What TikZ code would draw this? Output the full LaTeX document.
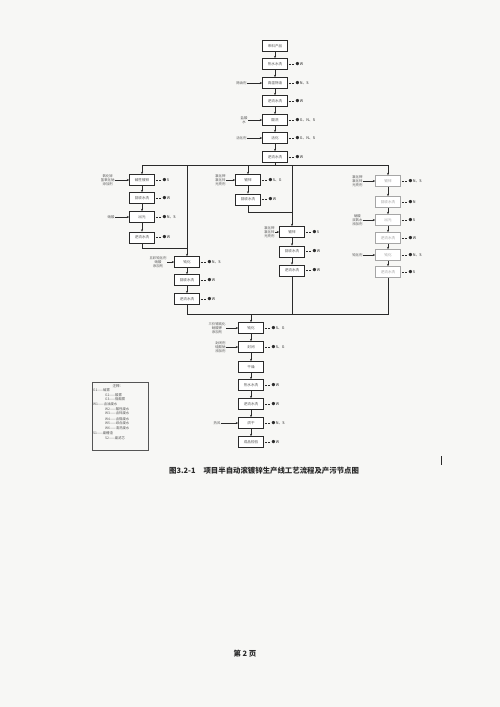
\documentclass[tikz,border=0pt]{standalone}
\usepackage{fontspec}
\setmainfont{Noto Sans CJK SC}
\usetikzlibrary{arrows.meta,calc}
\definecolor{pagebg}{HTML}{F7F7F5}
\definecolor{ink}{HTML}{2A2A2A}
\definecolor{softink}{HTML}{555555}
\tikzset{
  pbox/.style={draw=ink, line width=0.6pt, minimum width=25pt, minimum height=11pt, inner sep=0pt, fill=white, text=softink, font=\fontsize{3.6}{4}\selectfont},
  fadebox/.style={pbox, draw=gray!70, text=gray!70},
  flow/.style={draw=ink, line width=0.6pt, -{Stealth[length=2.4pt,width=2pt]}},
  plain/.style={draw=ink, line width=0.6pt},
  inl/.style={text=softink, font=\fontsize{3.4}{4.2}\selectfont, align=center, inner sep=0.5pt},
  outl/.style={text=ink, font=\fontsize{3.8}{4}\selectfont, inner sep=0.5pt},
  oline/.style={draw=ink, line width=0.5pt, dash pattern=on 2pt off 1.2pt},
  legtxt/.style={text=softink, font=\fontsize{3.4}{4}\selectfont, inner sep=0pt, anchor=west},
}
\newcommand\emitto[2]{\node[outl,anchor=west] (#1o) at ([xshift=7pt]#1.east) {●\,#2};\draw[oline] ([xshift=1pt]#1.east) -- (#1o.west);}
\newcommand\feedin[3][-12pt]{\node[inl,anchor=east] (#2i) at ([xshift=#1]#2.west) {#3};\draw[flow] (#2i.east) -- (#2.west);}
\begin{document}
\begin{tikzpicture}[x=1pt,y=-1pt]
\fill[pagebg] (0,0) rectangle (500,707);
\useasboundingbox (0,0) rectangle (500,707);

% main top column
\node[pbox] (t1) at (275,46) {来料产品};
\node[pbox] (t2) at (275,64) {热水水洗};
\node[pbox] (t3) at (275,83) {高温除油};
\node[pbox] (t4) at (275,101) {逆流水洗};
\node[pbox] (t5) at (275,120) {酸洗};
\node[pbox] (t6) at (275,138) {活化};
\node[pbox] (t7) at (275,157) {逆流水洗};
\foreach \a/\b in {t1/t2,t2/t3,t3/t4,t4/t5,t5/t6,t6/t7}{\draw[flow] (\a) -- (\b);}
\emitto{t2}{W}
\emitto{t3}{N、S}
\emitto{t4}{W}
\emitto{t5}{G、N、S}
\emitto{t6}{G、N、S}
\emitto{t7}{W}
\feedin[-15pt]{t3}{除油剂}
\feedin[-14pt]{t5}{盐酸\\水}
\feedin[-15pt]{t6}{活化剂}

% distribution line
\coordinate (hl) at (142,165);
\coordinate (hr) at (388,165);
\coordinate (hm) at (275,165);
\draw[plain] (t7.south) -- (hm);
\draw[plain] (hl) -- (hr);

% left column
\node[pbox] (l1) at (142,180) {碱性镀锌};
\node[pbox] (l2) at (142,198) {回收水洗};
\node[pbox] (l3) at (142,217) {出光};
\node[pbox] (l4) at (142,237.5) {逆流水洗};
\draw[flow] (hl) -- (l1);
\foreach \a/\b in {l1/l2,l2/l3,l3/l4}{\draw[flow] (\a) -- (\b);}
\emitto{l1}{S}
\emitto{l2}{W}
\emitto{l3}{N、S}
\emitto{l4}{W}
\feedin[-14pt]{l1}{氧化锌\\氢氧化钠\\添加剂}
\feedin[-14pt]{l3}{硝酸}

% second column
\coordinate (c0) at (187,165);
\coordinate (cj) at (187,248);
\node[pbox] (c1) at (187,262) {钝化};
\node[pbox] (c2) at (187,280) {回收水洗};
\node[pbox] (c3) at (187,299) {逆流水洗};
\draw[plain] (l4.south) |- (cj);
\draw[flow] (c0) -- (c1);
\draw[flow] (c1) -- (c2);
\draw[flow] (c2) -- (c3);
\emitto{c1}{N、S}
\emitto{c2}{W}
\emitto{c3}{W}
\feedin[-7pt]{c1}{五彩钝化剂\\硝酸\\添加剂}

% third column
\coordinate (m0) at (248,165);
\node[pbox] (m1) at (248,180) {镀锌};
\node[pbox] (m2) at (248,199.5) {回收水洗};
\draw[flow] (m0) -- (m1);
\draw[flow] (m1) -- (m2);
\emitto{m1}{S、G}
\emitto{m2}{W}
\feedin[-9pt]{m1}{氯化钾\\氯化锌\\光亮剂}

% fourth column
\coordinate (n0) at (292,165);
\coordinate (nj) at (292,212);
\node[pbox] (n1) at (292,232) {镀锌};
\node[pbox] (n2) at (292,251.5) {回收水洗};
\node[pbox] (n3) at (292,270.5) {逆流水洗};
\draw[plain] (m2.south) |- (nj);
\draw[flow] (n0) -- (n1);
\draw[flow] (n1) -- (n2);
\draw[flow] (n2) -- (n3);
\emitto{n1}{S}
\emitto{n2}{W}
\emitto{n3}{W}
\feedin[-4pt]{n1}{氯化钾\\氯化锌\\光亮剂}

% right column (faded)
\node[fadebox] (r1) at (388,181) {镀锌};
\node[fadebox] (r2) at (388,202) {回收水洗};
\node[fadebox] (r3) at (388,220) {出光};
\node[fadebox] (r4) at (388,238) {逆流水洗};
\node[fadebox] (r5) at (388,255) {钝化};
\node[fadebox] (r6) at (388,272) {逆流水洗};
\draw[flow] (hr) -- (r1);
\foreach \a/\b in {r1/r2,r2/r3,r3/r4,r4/r5,r5/r6}{\draw[flow] (\a) -- (\b);}
\emitto{r1}{N、S}
\emitto{r2}{N}
\emitto{r3}{S}
\emitto{r4}{W}
\emitto{r5}{N、S}
\emitto{r6}{S}
\feedin[-12pt]{r1}{氯化钾\\氯化锌\\光亮剂}
\feedin[-12pt]{r3}{硝酸\\双氧水\\添加剂}
\feedin[-12pt]{r5}{钝化剂}

% merge line
\coordinate (bl) at (187,314);
\coordinate (br) at (388,314);
\coordinate (bm) at (251,314);
\draw[plain] (c3.south) -- (bl) -- (br) -- (r6.south);
\draw[plain] (n3.south) -- (292,314);

% bottom column
\node[pbox] (b1) at (251,328) {钝化};
\node[pbox] (b2) at (251,347) {封闭};
\node[pbox] (b3) at (251,367) {干燥};
\node[pbox] (b4) at (251,385) {热水水洗};
\node[pbox] (b5) at (251,404) {逆流水洗};
\node[pbox] (b6) at (251,423) {烘干};
\node[pbox] (b7) at (251,442) {成品检验};
\draw[flow] (bm) -- (b1);
\foreach \a/\b in {b1/b2,b2/b3,b3/b4,b4/b5,b5/b6,b6/b7}{\draw[flow] (\a) -- (\b);}
\emitto{b1}{S、G}
\emitto{b2}{S、G}
\emitto{b4}{W}
\emitto{b5}{W}
\emitto{b6}{N、S}
\emitto{b7}{W}
\feedin[-12pt]{b1}{三价铬钝化\\硝酸钾\\添加剂}
\feedin[-12pt]{b2}{封闭剂\\硅酸钠\\添加剂}
\feedin[-17pt]{b6}{热风}

% legend
\node[draw=softink, line width=0.5pt, minimum width=56pt, minimum height=68pt, inner sep=0pt, anchor=north west] (leg) at (92,382) {};
\node[text=softink, font=\fontsize{3.6}{4}\selectfont, inner sep=0pt] (lg0) at (118,386) {注释：};
\node[legtxt] (lg1) at (93,390.5) {G1——碱雾};
\node[legtxt] (lg2) at (105,395) {G2——酸雾};
\node[legtxt] (lg3) at (105,399.5) {G3——铬酸雾};
\node[legtxt] (lg4) at (93,404.3) {W1——含油废水};
\node[legtxt] (lg5) at (105,409) {W2——酸性废水};
\node[legtxt] (lg6) at (105,413.7) {W3——含锌废水};
\node[legtxt] (lg7) at (105,418.7) {W4——含铬废水};
\node[legtxt] (lg8) at (105,423.3) {W5——综合废水};
\node[legtxt] (lg9) at (105,428.3) {W6——清洗废水};
\node[legtxt] (lg10) at (93,433.3) {S1——废槽渣};
\node[legtxt] (lg11) at (105,438.3) {S2——废滤芯};

% caption and page number
\node[text=ink, font=\fontsize{7.4}{8}\selectfont\bfseries, anchor=west, inner sep=0pt] (cap) at (169,471) {图3.2-1\hspace{8pt}项目半自动滚镀锌生产线工艺流程及产污节点图};
\node[text=ink, font=\fontsize{7.4}{8}\selectfont\bfseries, inner sep=0pt] (pg) at (245,654) {第 2 页};
\draw[ink, line width=0.8pt] (441,456) -- (441,465);
\end{tikzpicture}
\end{document}
